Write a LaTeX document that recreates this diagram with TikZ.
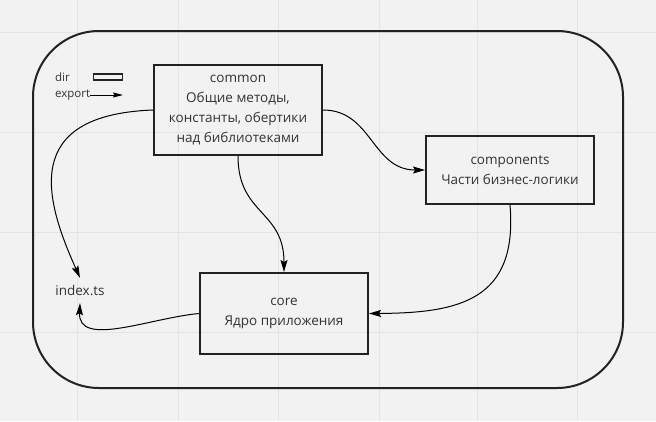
\documentclass[tikz,border=0pt]{standalone}
\usepackage{fontspec}
\setmainfont{Open Sans}
\usetikzlibrary{arrows.meta}
\definecolor{bg}{HTML}{F2F2F2}
\definecolor{gridc}{HTML}{E4E4E4}
\definecolor{ink}{HTML}{222222}
\definecolor{txt}{HTML}{333333}
\tikzset{
  modbox/.style={draw=ink, line width=2pt, align=center, text=txt, font=\fontsize{13.5}{20}\selectfont, inner sep=0pt},
  conn/.style={draw=black, line width=1pt, -{Stealth[length=12pt,width=7pt,inset=2pt]}},
  lbl/.style={text=txt, font=\fontsize{11.5}{13}\selectfont, inner sep=0pt, anchor=west},
}
\begin{document}
\begin{tikzpicture}[x=1pt,y=-1pt]
\fill[bg] (0,0) rectangle (656,421);
\useasboundingbox (0,0) rectangle (656,421);
\foreach \gx in {77,178,278,379,477,577} \draw[gridc, line width=1pt] (\gx,0) -- (\gx,421);
\foreach \gy in {32,132,232,332} \draw[gridc, line width=1pt] (0,\gy) -- (656,\gy);
% outer frame
\draw[ink, line width=2pt, rounded corners=66pt] (33,31) rectangle (623,388);
% legend
\node[lbl] (dirl) at (55,77) {dir};
\node[draw=ink, line width=1.6pt, minimum width=29pt, minimum height=6pt, inner sep=0pt] (dirbox) at (108,77) {};
\node[lbl] (expl) at (55,95) {export};
\coordinate (expend) at (123,95);
\draw[black, line width=1pt, -{Stealth[length=10pt,width=5pt,inset=1.5pt]}] (expl.east) -- (expend);
% boxes
\node[modbox, minimum width=168pt, minimum height=90pt] (common) at (238,110)
  {common\\Общие методы,\\константы, обертики\\над библиотеками};
\node[modbox, minimum width=168pt, minimum height=68pt] (comp) at (510,170)
  {components\\Части бизнес-логики};
\node[modbox, minimum width=168pt, minimum height=81pt] (core) at (284,313.5)
  {core\\Ядро приложения};
\node[text=txt, font=\fontsize{13.5}{16}\selectfont, inner sep=0pt, minimum height=25pt] (index) at (80,290.5) {index.ts};
% connectors
\draw[conn] (common.west) .. controls (20,115) and (45,200) .. (index.north);
\draw[conn] (common.south) .. controls (238,215) and (284,210) .. (core.north);
\draw[conn] (common.east) .. controls (372,110) and (372,170) .. (comp.west);
\draw[conn] (comp.south) .. controls (518,300) and (460,313) .. (core.east);
\draw[conn] (core.west) .. controls (150,318) and (78,348) .. (index.south);
\end{tikzpicture}
\end{document}
